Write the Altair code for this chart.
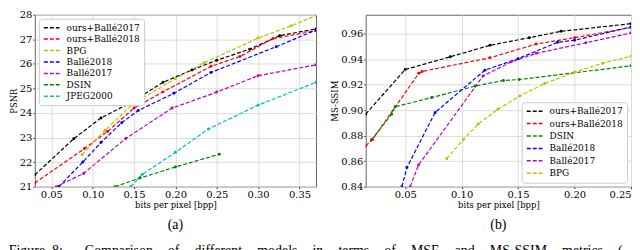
import altair as alt
import pandas as pd

# ---------------- data: panel (a) PSNR ----------------
a_series = ["ours+Ballé2017", "ours+Ballé2018", "BPG", "Ballé2018", "Ballé2017", "DSIN", "JPEG2000"]
a_colors = ["#000000", "#ff0000", "#bfbf00", "#0000ff", "#bf00bf", "#008000", "#00bfbf"]

a_ours17_x = [0.03, 0.077, 0.11, 0.145, 0.185, 0.22, 0.25, 0.29, 0.326, 0.37]
a_ours17_y = [21.48, 22.95, 23.8, 24.4, 25.25, 25.75, 26.15, 26.6, 27.15, 27.42]
a_ours18_x = [0.03, 0.09, 0.118, 0.15, 0.185, 0.243, 0.278, 0.318, 0.37]
a_ours18_y = [21.15, 22.55, 23.25, 24.2, 24.86, 25.9, 26.3, 27.03, 27.35]
a_bpg_x = [0.087, 0.115, 0.148, 0.20, 0.235, 0.30, 0.34, 0.37]
a_bpg_y = [22.3, 23.3, 24.35, 25.4, 26.05, 27.05, 27.55, 27.97]
a_b18_x = [0.059, 0.088, 0.11, 0.135, 0.155, 0.198, 0.243, 0.322, 0.37]
a_b18_y = [21.0, 22.0, 22.8, 23.6, 24.1, 24.8, 25.65, 26.7, 27.38]
a_b17_x = [0.056, 0.089, 0.14, 0.196, 0.25, 0.30, 0.37]
a_b17_y = [21.0, 21.54, 22.96, 24.2, 24.85, 25.52, 25.96]
a_dsin_x = [0.127, 0.157, 0.20, 0.253]
a_dsin_y = [21.0, 21.35, 21.8, 22.32]
a_jp2_x = [0.146, 0.16, 0.20, 0.24, 0.30, 0.37]
a_jp2_y = [21.0, 21.5, 22.4, 23.35, 24.32, 25.25]

# ---------------- data: panel (b) MS-SSIM ----------------
b_series = ["ours+Ballé2017", "ours+Ballé2018", "DSIN", "Ballé2018", "Ballé2017", "BPG"]
b_colors = ["#000000", "#ff0000", "#008000", "#0000ff", "#bf00bf", "#bfbf00"]

b_ours17_x = [0.015, 0.05, 0.09, 0.125, 0.16, 0.188, 0.25]
b_ours17_y = [0.897, 0.932, 0.942, 0.951, 0.957, 0.962, 0.968]
b_ours18_x = [0.015, 0.021, 0.062, 0.065, 0.125, 0.166, 0.20, 0.25]
b_ours18_y = [0.872, 0.877, 0.929, 0.9305, 0.9412, 0.952, 0.957, 0.965]
b_dsin_x = [0.02, 0.038, 0.041, 0.0735, 0.112, 0.137, 0.151, 0.25]
b_dsin_y = [0.8766, 0.897, 0.9027, 0.91, 0.919, 0.9234, 0.9241, 0.9349]
b_b18_x = [0.047, 0.0515, 0.0765, 0.1206, 0.15, 0.185, 0.20, 0.25]
b_b18_y = [0.84, 0.855, 0.8983, 0.9315, 0.9405, 0.9534, 0.955, 0.9654]
b_b17_x = [0.0544, 0.0618, 0.119, 0.144, 0.166, 0.21, 0.25]
b_b17_y = [0.84, 0.857, 0.927, 0.938, 0.9447, 0.953, 0.9607]
b_bpg_x = [0.0868, 0.1015, 0.1147, 0.132, 0.1515, 0.1735, 0.20, 0.225, 0.25]
b_bpg_y = [0.862, 0.877, 0.8893, 0.9007, 0.9112, 0.921, 0.93, 0.937, 0.9424]

a_xticks = [0.05, 0.10, 0.15, 0.20, 0.25, 0.30, 0.35]
a_yticks = [21, 22, 23, 24, 25, 26, 27, 28]
b_xticks = [0.05, 0.10, 0.15, 0.20, 0.25]
b_yticks = [0.84, 0.86, 0.88, 0.90, 0.92, 0.94, 0.96]

GAP = "\u2002\u2002\u200a"
caption_words = ["Figure", "8:", "Comparison", "of", "different", "models", "in", "terms",
                 "of", "MSE", "and", "MS-SSIM", "metrics", "("]
caption = caption_words[0] + "\u2002" + caption_words[1] + GAP + "\u2002" + GAP.join(caption_words[2:])


def frame(names, xs, ys):
    rows = []
    for n, xv, yv in zip(names, xs, ys):
        for i, (a, b) in enumerate(zip(xv, yv)):
            rows.append({"series": n, "x": a, "y": b, "i": i})
    return pd.DataFrame(rows)


df_a = frame(a_series,
             [a_ours17_x, a_ours18_x, a_bpg_x, a_b18_x, a_b17_x, a_dsin_x, a_jp2_x],
             [a_ours17_y, a_ours18_y, a_bpg_y, a_b18_y, a_b17_y, a_dsin_y, a_jp2_y])
df_b = frame(b_series,
             [b_ours17_x, b_ours18_x, b_dsin_x, b_b18_x, b_b17_x, b_bpg_x],
             [b_ours17_y, b_ours18_y, b_dsin_y, b_b18_y, b_b17_y, b_bpg_y])

FONT = "DejaVu Serif"


def axis(values, fmt, title):
    return alt.Axis(values=values, format=fmt, title=title, labelFont=FONT, labelFontSize=10,
                    labelColor="#000", titleFont=FONT, titleFontSize=8.5, titleFontWeight="normal",
                    titleColor="#000", grid=True, gridColor="#dcdcdc", domain=False,
                    tickSize=2, tickColor="#444", labelPadding=1, titlePadding=1)


def panel(df, series, colors, xdom, ydom, xt, yt, yfmt, ytitle, lorient, sub, w, h, rowpad):
    legend = alt.Legend(orient=lorient, title=None, labelFont=FONT, labelFontSize=9,
                        labelColor="#000", symbolType="stroke", symbolDash=[4, 2],
                        symbolStrokeWidth=1.5, symbolSize=250, clipHeight=10, rowPadding=rowpad,
                        fillColor="white", strokeColor="#cccccc", padding=4,
                        cornerRadius=3, offset=4, labelOffset=6)
    return alt.Chart(df).mark_line(
        strokeDash=[4, 2], strokeWidth=1.2, clip=True,
        point=alt.OverlayMarkDef(size=9, filled=True, clip=True)
    ).encode(
        x=alt.X("x:Q", scale=alt.Scale(domain=xdom, nice=False, zero=False),
                axis=axis(xt, ".2f", "bits per pixel [bpp]")),
        y=alt.Y("y:Q", scale=alt.Scale(domain=ydom, nice=False, zero=False),
                axis=axis(yt, yfmt, ytitle)),
        color=alt.Color("series:N", scale=alt.Scale(domain=series, range=colors),
                        sort=series, legend=legend),
        order="i:Q",
    ).properties(
        width=w, height=h,
        title=alt.TitleParams(sub, orient="bottom", font="Liberation Serif", fontSize=14,
                              fontWeight="normal", color="#000", offset=9),
    )


left = panel(df_a, a_series, a_colors, [0.03, 0.37], [21, 28], a_xticks, a_yticks, ".0f",
             "PSNR", "top-left", "(a)", 283, 173, 1.5)
right = panel(df_b, b_series, b_colors, [0.015, 0.25], [0.84, 0.975], b_xticks, b_yticks, ".2f",
              "MS-SSIM", "bottom-right", "(b)", 267, 173, 2.5)

chart = alt.hconcat(left, right, spacing=13).resolve_scale(color="independent").properties(
    padding=0,
    title=alt.TitleParams(caption, orient="bottom", anchor="start", font="Liberation Serif",
                          fontSize=14, fontWeight="normal", color="#000", offset=12),
).configure_view(stroke="#666", strokeWidth=1).configure_legend(
    labelFont=FONT, labelFontSize=9
)

chart.save("out.html", embed_options={"renderer": "svg", "actions": False})
